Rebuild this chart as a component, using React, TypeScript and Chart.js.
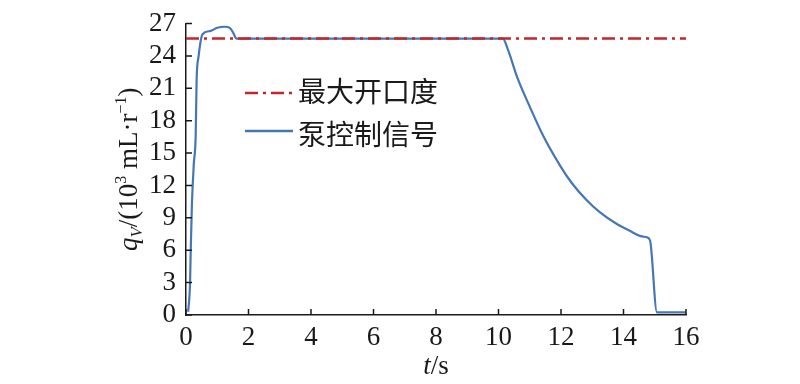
import React, { useEffect, useRef } from "react";
import { Chart, registerables } from "chart.js";

Chart.register(...registerables);

const maxOpeningT: number[] = [0, 16];
const maxOpeningQ: number[] = [25.6, 25.6];

const pumpT: number[] = [0.07, 0.13, 0.15, 0.19, 0.25, 0.31, 0.34, 0.4, 0.53, 0.77, 1.0, 1.25, 1.4, 1.5, 1.62, 2.0, 6.0, 10.14, 10.3, 10.6, 11.0, 11.43, 12.0, 12.35, 12.8, 13.25, 13.8, 14.2, 14.55, 14.75, 14.85, 15.07, 15.5, 16.0];
const pumpQ: number[] = [0.3, 3, 5.9, 10.3, 14, 16.6, 21.8, 23.9, 26.0, 26.3, 26.6, 26.7, 26.6, 26.2, 25.6, 25.6, 25.6, 25.6, 24.6, 22.0, 19.3, 16.6, 13.7, 12.2, 10.7, 9.5, 8.4, 7.8, 7.3, 7.2, 6.9, 0.25, 0.25, 0.25];

const xTicks: number[] = [0, 2, 4, 6, 8, 10, 12, 14, 16];
const yTicks: number[] = [0, 3, 6, 9, 12, 15, 18, 21, 24, 27];

const legendLabels: string[] = ["最大开口度", "泵控制信号"];
const RED = "#c0272d";
const BLUE = "#4576b5";
const AXIS = "#1a1a1a";
const SERIF = "'Liberation Serif', 'Times New Roman', serif";
const CJK = "'Noto Sans CJK SC', sans-serif";

const decorPlugin = {
  id: "decor",
  afterDraw(chart: any) {
    const ctx = chart.ctx as CanvasRenderingContext2D;
    const xs = chart.scales.x;
    const ys = chart.scales.y;
    const area = chart.chartArea;
    ctx.save();
    // inside ticks
    ctx.strokeStyle = AXIS;
    ctx.lineWidth = 1.5;
    ctx.beginPath();
    xTicks.forEach((v) => {
      const px = xs.getPixelForValue(v);
      ctx.moveTo(px, area.bottom);
      ctx.lineTo(px, area.bottom - 6);
    });
    yTicks.forEach((v) => {
      const py = ys.getPixelForValue(v);
      ctx.moveTo(area.left, py);
      ctx.lineTo(area.left + 6, py);
    });
    ctx.stroke();

    // legend
    ctx.lineWidth = 2.5;
    ctx.strokeStyle = RED;
    ctx.setLineDash([13, 5, 3, 5]);
    ctx.beginPath();
    ctx.moveTo(245, 93);
    ctx.lineTo(293, 93);
    ctx.stroke();
    ctx.setLineDash([]);
    ctx.strokeStyle = BLUE;
    ctx.beginPath();
    ctx.moveTo(245, 131);
    ctx.lineTo(293, 131);
    ctx.stroke();
    ctx.fillStyle = "#1a1a1a";
    ctx.font = `28px ${CJK}`;
    ctx.textAlign = "left";
    ctx.textBaseline = "middle";
    ctx.fillText(legendLabels[0], 298, 91);
    ctx.fillText(legendLabels[1], 298, 134);

    // x title
    const big = 27;
    ctx.textBaseline = "alphabetic";
    const xParts = [
      { t: "t", f: `italic ${big}px ${SERIF}`, dy: 0 },
      { t: "/s", f: `${big}px ${SERIF}`, dy: 0 },
    ];
    const drawParts = (parts: any[], cx: number, baseY: number) => {
      let total = 0;
      parts.forEach((p) => {
        ctx.font = p.f;
        p.w = ctx.measureText(p.t).width;
        total += p.w;
      });
      let x = cx - total / 2;
      parts.forEach((p) => {
        ctx.font = p.f;
        ctx.fillText(p.t, x, baseY + p.dy);
        x += p.w;
      });
    };
    drawParts(xParts, (area.left + area.right) / 2, 374);

    // y title
    const yParts = [
      { t: "q", f: `italic ${big}px ${SERIF}`, dy: 0 },
      { t: "V", f: `italic 17px ${SERIF}`, dy: 5 },
      { t: "/(10", f: `${big}px ${SERIF}`, dy: 0 },
      { t: "3", f: `16px ${SERIF}`, dy: -11 },
      { t: " mL·r", f: `${big}px ${SERIF}`, dy: 0 },
      { t: "−1", f: `16px ${SERIF}`, dy: -11 },
      { t: ")", f: `${big}px ${SERIF}`, dy: 0 },
    ];
    ctx.translate(137, (area.top + area.bottom) / 2);
    ctx.rotate(-Math.PI / 2);
    drawParts(yParts, 0, 0);
    ctx.restore();
  },
};

export default function App() {
  const ref = useRef<HTMLCanvasElement | null>(null);
  useEffect(() => {
    document.body.style.margin = "0";
    if (!ref.current) return;
    const chart = new Chart(ref.current, {
      type: "line",
      data: {
        datasets: [
          {
            label: legendLabels[0],
            data: maxOpeningT.map((t, i) => ({ x: t, y: maxOpeningQ[i] })),
            borderColor: RED,
            borderWidth: 2.5,
            borderDash: [13, 5, 3, 5],
            pointRadius: 0,
            order: 0,
          },
          {
            label: legendLabels[1],
            data: pumpT.map((t, i) => ({ x: t, y: pumpQ[i] })),
            borderColor: BLUE,
            borderWidth: 2.2,
            pointRadius: 0,
            cubicInterpolationMode: "monotone",
            order: 1,
          },
        ],
      },
      options: {
        responsive: false,
        animation: false,
        layout: { padding: { top: 15, right: 114, left: 0, bottom: 0 } },
        plugins: { legend: { display: false }, tooltip: { enabled: false } },
        scales: {
          x: {
            type: "linear",
            min: 0,
            max: 16,
            afterFit: (s: any) => {
              s.height = 69;
            },
            afterBuildTicks: (s: any) => {
              s.ticks = xTicks.map((v) => ({ value: v }));
            },
            grid: { display: false, drawTicks: false },
            border: { display: true, color: AXIS, width: 1.5 },
            ticks: {
              color: "#1a1a1a",
              padding: 9,
              maxRotation: 0,
              font: { family: SERIF, size: 27, lineHeight: 1 },
            },
          },
          y: {
            type: "linear",
            min: 0,
            max: 27,
            afterFit: (s: any) => {
              s.width = 186;
            },
            afterBuildTicks: (s: any) => {
              s.ticks = yTicks.map((v) => ({ value: v }));
            },
            grid: { display: false, drawTicks: false },
            border: { display: true, color: AXIS, width: 1.5 },
            ticks: {
              color: "#1a1a1a",
              padding: 10,
              font: { family: SERIF, size: 27, lineHeight: 1 },
            },
          },
        },
      },
      plugins: [decorPlugin],
    });
    return () => chart.destroy();
  }, []);
  return <canvas ref={ref} width={800} height={384} style={{ display: "block" }} />;
}
